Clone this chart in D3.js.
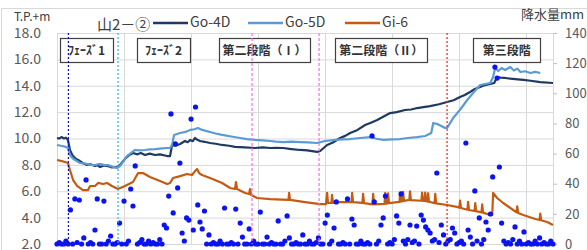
<!DOCTYPE html>
<html>
<head>
<meta charset="utf-8">
<script src="https://d3js.org/d3.v7.min.js"></script>
<style>
  body { margin: 0; background: #fff; }
  text { font-family: "Noto Sans CJK JP", "Noto Sans", sans-serif; }
</style>
</head>
<body>
<div id="chart"></div>
<script>
// water level series, [day, T.P.+m]
var go4d = [[0,10.04],[1,10.0],[2.2,10.11],[3,10.0],[4,10.06],[4.9,9.89],[5.8,9.13],[7,8.7],[8.1,8.52],[9,8.4],[10.3,8.29],[12,8.1],[13.4,7.99],[15,8.05],[17,7.91],[18,7.98],[19.3,7.84],[21,7.95],[22.8,7.91],[24.5,7.8],[26.9,7.84],[28.2,7.99],[30.4,8.45],[32,8.7],[34,8.90],[36,8.8],[37.5,8.9],[39.4,8.75],[41.5,8.85],[43.9,8.75],[46,8.8],[49.3,8.67],[50.6,8.67],[51.5,9.51],[53,9.45],[55.1,9.58],[57.3,9.81],[58.5,9.72],[59.6,9.89],[60.8,9.8],[61.8,10.04],[62.8,9.9],[64,9.81],[66,9.75],[68.5,9.66],[71,9.6],[73.9,9.51],[77,9.45],[79.7,9.36],[84,9.32],[88.7,9.28],[92,9.33],[95.4,9.28],[98,9.3],[101.2,9.28],[105,9.2],[108.8,9.13],[112,9.1],[116.4,8.98],[117.8,9.05],[120.9,9.51],[123.5,9.7],[126.7,10.04],[129,10.2],[131.2,10.42],[134,10.6],[137.9,11.02],[140.5,11.2],[143.3,11.40],[146,11.65],[149.1,11.93],[152,12.0],[155.8,12.16],[158.5,12.2],[161.2,12.31],[164,12.38],[167,12.46],[171,12.6],[174.6,12.77],[177.5,12.9],[180.4,13.15],[182.5,13.3],[184.9,13.53],[187,13.75],[189.4,13.91],[191.5,14.05],[193.9,14.13],[195.7,14.21],[197,14.66],[198.5,14.62],[200.6,14.59],[204,14.52],[208.7,14.44],[212,14.38],[216.3,14.28],[222,14.21]];

var go5d = [[0,9.51],[2.2,9.43],[4,9.36],[4.9,9.28],[5.8,8.75],[7,8.5],[8.1,8.37],[10.3,8.14],[13.4,8.07],[15,8.0],[17,7.99],[19.3,8.07],[21,8.0],[22.8,7.99],[25,7.85],[26.9,7.76],[28.2,7.91],[31.3,8.67],[34.9,9.13],[37,9.1],[39.4,9.13],[41.5,9.18],[43.9,9.20],[47,9.25],[49.3,9.28],[50.6,9.28],[51.5,9.51],[52.4,10.27],[55.1,10.42],[57.5,10.5],[59.6,10.65],[61.5,10.7],[63.1,10.80],[65,10.65],[68.5,10.49],[71,10.38],[73.9,10.27],[78,10.15],[82,10.04],[85,9.95],[88.7,9.89],[92,9.86],[95.4,9.81],[98,9.76],[101.2,9.73],[105,9.76],[108.8,9.73],[112.5,9.7],[116.4,9.66],[120,9.81],[124.5,9.89],[128,9.93],[131.2,9.96],[135.7,10.04],[140.2,10.11],[143,9.98],[146,9.89],[150,9.94],[153.6,9.96],[157,10.04],[161.2,10.11],[164.8,10.19],[167.5,10.42],[168.4,11.18],[170.2,11.10],[172,10.95],[173.7,10.80],[174.6,10.80],[177.3,11.55],[180.5,12.2],[183.6,12.92],[186.5,13.5],[189.4,14.06],[193.9,14.21],[195.2,14.66],[196.1,15.35],[197.5,15.12],[199,15.35],[200.6,15.19],[202.9,15.42],[204.5,15.15],[206,15.3],[207.4,15.04],[209.5,15.1],[211.9,14.97],[214,15.05],[216.3,14.97]];

var gi6 = [[0,8.37],[2.2,8.29],[4.9,8.14],[5.8,7.61],[7.2,6.85],[9,6.40],[11.6,6.09],[13.9,6.09],[14.8,6.40],[17,6.40],[18.4,6.63],[20.6,6.55],[22.4,6.63],[24.6,6.40],[27.3,6.17],[30.4,6.40],[34,6.70],[36.3,7.38],[38.5,7.38],[41.6,7.08],[46.1,6.78],[49.3,6.55],[50.6,6.63],[51.9,7.00],[55.1,7.15],[58.2,7.31],[60.4,7.23],[61.8,7.53],[62.7,7.68],[63.6,7.38],[64.9,7.23],[68.5,7.00],[73.9,6.63],[77.5,6.25],[79.7,6.17],[80.1,6.70],[80.6,6.17],[84.2,5.87],[86,5.79],[86.4,6.17],[86.9,5.72],[89.6,5.49],[95.4,5.41],[103.6,5.34],[103.9,5.87],[104.3,5.34],[111,5.18],[117.8,5.03],[120.4,5.03],[120.9,5.87],[121.3,5.11],[122.8,5.11],[123.1,5.72],[123.5,5.11],[126.7,5.18],[131.8,5.18],[132.1,5.87],[132.5,5.18],[136.7,5.12],[137,5.8],[137.4,5.1],[141.2,5.0],[141.5,5.8],[141.9,5.0],[146.6,5.05],[146.9,5.87],[147.3,5.05],[147.9,5.08],[148.2,5.85],[148.6,5.1],[153.3,5.2],[153.6,5.9],[154,5.22],[154.6,5.25],[154.9,5.95],[155.3,5.27],[157.7,5.34],[158,6.0],[158.4,5.33],[163.1,5.28],[163.4,5.9],[163.8,5.27],[164.5,5.26],[164.8,5.9],[165.2,5.24],[165.8,5.22],[166.1,5.85],[166.5,5.2],[169,5.1],[169.3,5.8],[169.7,5.08],[174.6,4.96],[179,4.81],[180.1,4.75],[180.4,5.3],[180.8,4.73],[183.7,4.6],[184,5.2],[184.4,4.58],[186.9,4.5],[187.2,5.1],[187.6,4.49],[190,4.4],[190.3,5.0],[190.7,4.38],[193.9,4.20],[194.8,4.20],[195.2,5.87],[197,5.49],[199.7,5.11],[204.2,4.58],[205.7,4.4],[206,4.85],[206.4,4.35],[208.7,4.20],[214.1,3.90],[216,3.82],[216.3,4.3],[216.7,3.8],[219.4,3.67],[222,3.44]];

// daily rainfall (mm), day 0..222
var rain = [
  0,1,0,0,2,0,22.6,0,29.9,1,
  29.2,0,4,42.5,0,1,0,9.3,29.9,0,
  0,28.5,0,2,5.3,0,0,1,13.9,0,
  28.5,0,2,36.5,25.2,51.8,0,1,3,0,
  0,2,0,1,0,0,3,0,12.6,10.6,
  31.8,86.3,20.6,66.4,37.2,53.7,7.3,2,17.3,15.9,
  82.9,9.3,90.9,25.9,14.6,10,21.9,0,6,0,
  1,0,0,2,0,23.9,0,0,1,0,
  23.2,0,13.9,4.6,0,0,10,0,2,0,
  0,21.2,0,0,4.6,0,1,0,0,15.3,
  0,0,2,18.6,4,0,0,1,0,0,
  6,0,0,2,0,0,1,4,0,0,
  13.9,19.2,0,2,10.6,27.9,0,0,1,0,
  29.9,0,16.6,12.6,0,0,2,0,0,1,
  0,71.7,27.9,0,2,12.6,17.3,31.8,0,1,
  0,3,18.6,13.9,33.2,2,0,3,12.6,1,
  2,11.9,0,19.2,15.9,11.3,9.3,7.3,2,3,
  47.1,1,12.6,6,0,2,3,10.6,7.3,0,
  1,2,0,67,9.3,4.6,0,35.2,2,17.3,
  0,3,14.6,9.3,19.9,44.5,117.4,110.1,51.1,13.9,
  2,0,1,0,3,11.3,0,2,0,8,
  0,1,0,0,2,0,4,0,1,0,
  0,2,0
];

var leftTicks = [2, 4, 6, 8, 10, 12, 14, 16, 18];
var rightTicks = [0, 20, 40, 60, 80, 100, 120, 140];
var monthDays = [0, 30, 60, 90, 120, 150, 180, 210];

var phaseLines = [
  { day: 5.1, color: "#1010d0", dash: "2,2" },
  { day: 27.3, color: "#20b8f0", dash: "2,2" },
  { day: 87.3, color: "#f070f0", dash: "3,2" },
  { day: 117.3, color: "#f070f0", dash: "3,2" },
  { day: 174.6, color: "#ff1a1a", dash: "2,2" }
];

var phaseBoxes = [
  { label: "ﾌｪｰｽﾞ1", from: 1.3, to: 25.1 },
  { label: "ﾌｪｰｽﾞ2", from: 35.8, to: 59.6 },
  { label: "第二段階（Ⅰ）", from: 72.5, to: 113.3 },
  { label: "第二段階（Ⅱ）", from: 124.5, to: 165.7 },
  { label: "第三段階", from: 186.3, to: 216.3 }
];

var series = [
  { name: "Go-4D", data: go4d, color: "#1f3a60" },
  { name: "Go-5D", data: go5d, color: "#5b9bd5" },
  { name: "Gi-6", data: gi6, color: "#c55a11" }
];

const W = 587, H = 250;
const plotL = 57, plotR = 553, plotT = 33, plotB = 244;

var x = d3.scaleLinear().domain([0, 222]).range([plotL, plotR]);
var yL = d3.scaleLinear().domain([2, 18]).range([plotB, plotT]);
var yR = d3.scaleLinear().domain([0, 140]).range([plotB, plotT]);

var svg = d3.select("#chart").append("svg")
  .attr("width", W).attr("height", H);

// chart border
svg.append("rect")
  .attr("x", 1.5).attr("y", 8.5).attr("width", W).attr("height", H)
  .attr("fill", "none").attr("stroke", "#d9d9d9");

// gridlines
svg.append("g").selectAll("line").data(leftTicks).enter().append("line")
  .attr("x1", plotL).attr("x2", plotR)
  .attr("y1", d => yL(d) + 0.5).attr("y2", d => yL(d) + 0.5)
  .attr("stroke", "#d9d9d9");

svg.append("g").selectAll("line").data(monthDays).enter().append("line")
  .attr("x1", d => Math.round(x(d)) + 0.5).attr("x2", d => Math.round(x(d)) + 0.5)
  .attr("y1", plotT).attr("y2", plotB)
  .attr("stroke", "#d9d9d9");

svg.append("line")
  .attr("x1", plotR + 0.5).attr("x2", plotR + 0.5)
  .attr("y1", plotT).attr("y2", plotB)
  .attr("stroke", "#d9d9d9");

// axes
var axL = svg.append("g")
  .attr("transform", "translate(" + plotL + ",0)")
  .call(d3.axisLeft(yL).tickValues(leftTicks).tickFormat(d3.format(".1f")).tickSize(0).tickPadding(16));
axL.select(".domain").remove();
axL.selectAll("text").attr("fill", "#595959").style("font-size", "14px");

var axR = svg.append("g")
  .attr("transform", "translate(" + plotR + ",0)")
  .call(d3.axisRight(yR).tickValues(rightTicks).tickSize(4).tickPadding(8));
axR.select(".domain").remove();
axR.selectAll("line").attr("stroke", "#bfbfbf");
axR.selectAll("text").attr("fill", "#595959").style("font-size", "13px");

// water level lines
var line = d3.line().x(d => x(d[0])).y(d => yL(d[1]));
svg.append("g").selectAll("path").data(series).enter().append("path")
  .attr("d", d => line(d.data))
  .attr("fill", "none")
  .attr("stroke", d => d.color)
  .attr("stroke-width", 2.2)
  .attr("stroke-linejoin", "round");

// rainfall points
svg.append("g").selectAll("circle").data(rain).enter().append("circle")
  .attr("cx", (d, i) => x(i))
  .attr("cy", d => yR(d))
  .attr("r", 2.6)
  .attr("fill", "#0a14f0");

// phase boxes
var boxes = svg.append("g").selectAll("g").data(phaseBoxes).enter().append("g");
boxes.append("rect")
  .attr("x", d => Math.round(x(d.from)) + 0.5)
  .attr("y", 38.5)
  .attr("width", d => Math.round(x(d.to) - x(d.from)))
  .attr("height", 24)
  .attr("fill", "#fff")
  .attr("stroke", "#404040")
  .attr("stroke-width", 1.2);
boxes.append("text")
  .attr("x", d => (x(d.from) + x(d.to)) / 2)
  .attr("y", 55)
  .attr("text-anchor", "middle")
  .attr("font-size", 12)
  .attr("font-weight", "bold")
  .attr("fill", "#333")
  .text(d => d.label);

// phase divider lines
svg.append("g").selectAll("line").data(phaseLines).enter().append("line")
  .attr("x1", d => x(d.day)).attr("x2", d => x(d.day))
  .attr("y1", plotT).attr("y2", plotB)
  .attr("stroke", d => d.color)
  .attr("stroke-width", 1.2)
  .attr("stroke-dasharray", d => d.dash);

// titles
svg.append("text").attr("x", 14).attr("y", 21)
  .attr("font-size", 12).attr("fill", "#404040").text("T.P.+m");
svg.append("text").attr("x", 521).attr("y", 19)
  .attr("font-size", 13).attr("fill", "#404040").text("降水量mm");

// legend
svg.append("text").attr("x", 97).attr("y", 30)
  .attr("font-size", 15).attr("fill", "#404040").text("山2－②");
var legX = [153, 248, 345];
var leg = svg.append("g").selectAll("g").data(series).enter().append("g")
  .attr("transform", (d, i) => "translate(" + legX[i] + ",0)");
leg.append("line")
  .attr("x1", 0).attr("x2", 35).attr("y1", 23).attr("y2", 23)
  .attr("stroke", d => d.color).attr("stroke-width", 2.5);
leg.append("text")
  .attr("x", 37).attr("y", 27)
  .attr("font-size", 14).attr("fill", "#404040")
  .text(d => d.name);
</script>
</body>
</html>
